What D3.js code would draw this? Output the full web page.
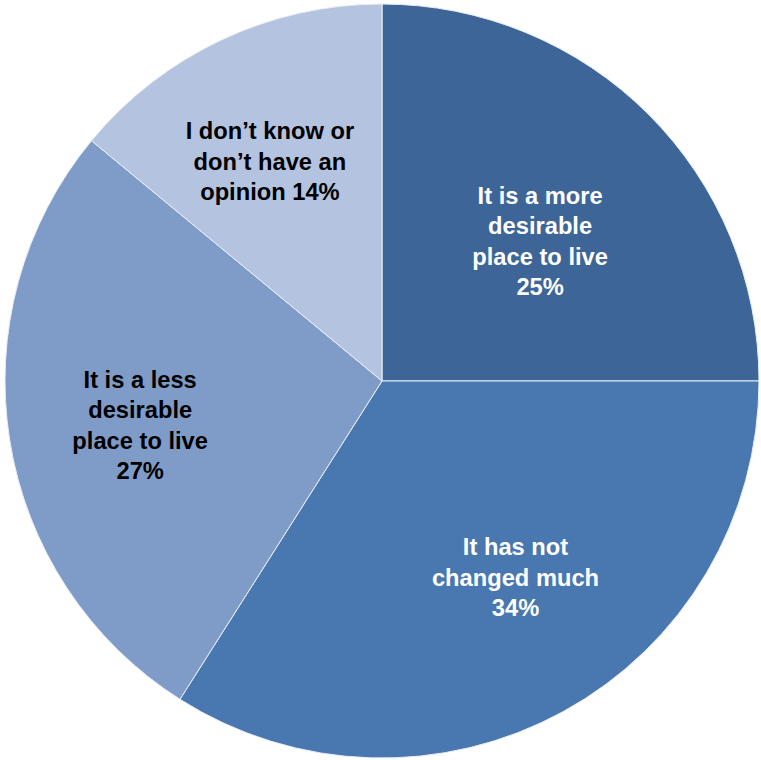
<!DOCTYPE html>
<html>
<head>
<meta charset="utf-8">
<script src="https://cdn.jsdelivr.net/npm/d3@7"></script>
<style>
  html, body { margin: 0; padding: 0; background: #fff; }
  svg { display: block; }
</style>
</head>
<body>
<svg id="chart" width="761" height="760"></svg>
<script>
// Survey answers, in clockwise order from 12 o'clock
const labels = [
  ["It is a more", "desirable", "place to live"],
  ["It has not", "changed much"],
  ["It is a less", "desirable", "place to live"],
  ["I don\u2019t know or", "don\u2019t have an", "opinion"]
];
const values = [25, 34, 27, 14];
const colors = ["#3D6597", "#4977B0", "#7F9CC8", "#B4C3DF"];
const textColors = ["#ffffff", "#ffffff", "#000000", "#000000"];
// label block placement: fraction of the radius, and turn (degrees) off the slice bisector
const labelRadius = [0.56, 0.63, 0.652, 0.655];
const labelTurn = [3.5, -5.4, -1.3, -1.8];

const cx = 382, cy = 381, R = 377;

const svg = d3.select("#chart");
const g = svg.append("g").attr("transform", `translate(${cx},${cy})`);

const pie = d3.pie().sort(null).value(d => d)(values);
const arc = d3.arc().innerRadius(0).outerRadius(R);

g.selectAll("path.slice")
  .data(pie)
  .join("path")
  .attr("class", "slice")
  .attr("d", arc)
  .attr("fill", (d, i) => colors[i])
  .attr("stroke", "#e8eef6")
  .attr("stroke-width", 1);

const lineH = 30.5;
pie.forEach((d, i) => {
  const mid = (d.startAngle + d.endAngle) / 2 + labelTurn[i] * Math.PI / 180;
  const r = R * labelRadius[i];
  const x = r * Math.sin(mid);
  const y = -r * Math.cos(mid);
  const lines = labels[i].slice();
  if (i === 3) {
    lines[lines.length - 1] = lines[lines.length - 1] + " " + values[i] + "%";
  } else {
    lines.push(values[i] + "%");
  }
  const t = g.append("text")
    .attr("text-anchor", "middle")
    .attr("font-family", "'Liberation Sans', Arial, sans-serif")
    .attr("font-weight", "bold")
    .attr("font-size", 23.7)
    .attr("fill", textColors[i]);
  const y0 = y - (lines.length - 1) * lineH / 2;
  lines.forEach((ln, k) => {
    t.append("tspan")
      .attr("x", x)
      .attr("y", y0 + k * lineH)
      .attr("dy", "0.36em")
      .text(ln);
  });
});
</script>
</body>
</html>
